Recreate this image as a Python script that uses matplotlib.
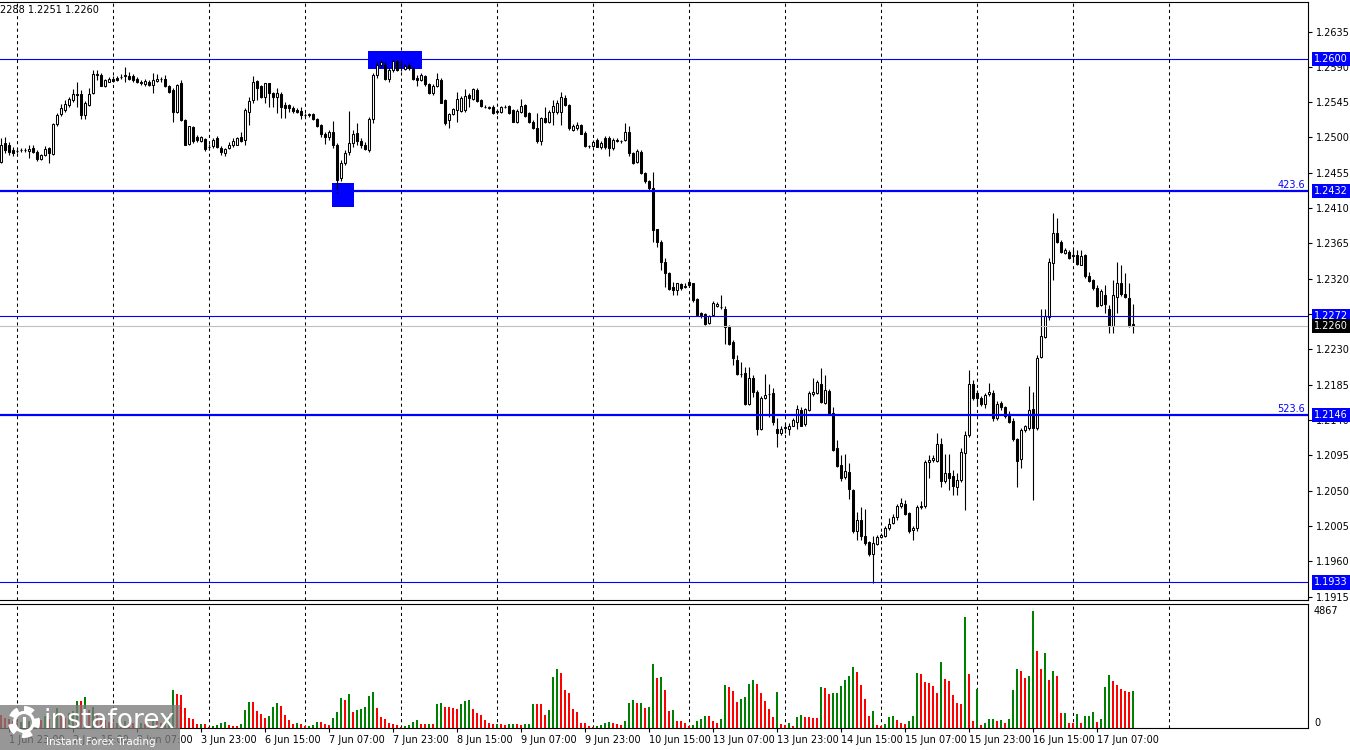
import matplotlib
matplotlib.use('Agg')
import matplotlib.pyplot as plt
import matplotlib.transforms as mtransforms
from matplotlib.patches import Rectangle, Circle
import numpy as np

# H1 bars (bar 0 = leftmost)
opens = [
    1.2469, 1.2493, 1.2491, 1.2484, 1.2483, 1.2484, 1.2484, 1.2483, 1.2487, 1.2482,
    1.2472, 1.2478, 1.2486, 1.2479, 1.2517, 1.2530, 1.2535, 1.2541, 1.2548, 1.2555,
    1.2555, 1.2529, 1.2541, 1.2557, 1.2580, 1.2580, 1.2565, 1.2571, 1.2575, 1.2576,
    1.2577, 1.2578, 1.2578, 1.2578, 1.2575, 1.2571, 1.2568, 1.2571, 1.2567, 1.2572,
    1.2575, 1.2575, 1.2566, 1.2561, 1.2533, 1.2569, 1.2522, 1.2492, 1.2513, 1.2500,
    1.2496, 1.2498, 1.2488, 1.2489, 1.2499, 1.2487, 1.2480, 1.2486, 1.2490, 1.2491,
    1.2501, 1.2497, 1.2533, 1.2548, 1.2572, 1.2565, 1.2552, 1.2569, 1.2557, 1.2551,
    1.2555, 1.2542, 1.2541, 1.2538, 1.2535, 1.2534, 1.2529, 1.2529, 1.2530, 1.2524,
    1.2516, 1.2505, 1.2500, 1.2507, 1.2491, 1.2448, 1.2467, 1.2481, 1.2493, 1.2506,
    1.2496, 1.2491, 1.2484, 1.2524, 1.2579, 1.2592, 1.2592, 1.2575, 1.2586, 1.2597,
    1.2593, 1.2587, 1.2592, 1.2587, 1.2576, 1.2573, 1.2578, 1.2568, 1.2557, 1.2566,
    1.2573, 1.2548, 1.2522, 1.2530, 1.2535, 1.2534, 1.2535, 1.2554, 1.2549, 1.2561,
    1.2548, 1.2539, 1.2538, 1.2539, 1.2533, 1.2533, 1.2539, 1.2540, 1.2535, 1.2520,
    1.2533, 1.2541, 1.2531, 1.2520, 1.2512, 1.2495, 1.2525, 1.2520, 1.2532, 1.2532,
    1.2532, 1.2550, 1.2541, 1.2510, 1.2512, 1.2516, 1.2506, 1.2489, 1.2489, 1.2497,
    1.2488, 1.2499, 1.2499, 1.2486, 1.2496, 1.2495, 1.2497, 1.2507, 1.2480, 1.2469,
    1.2482, 1.2455, 1.2444, 1.2435, 1.2383, 1.2367, 1.2341, 1.2327, 1.2310, 1.2306,
    1.2313, 1.2310, 1.2316, 1.2314, 1.2294, 1.2276, 1.2275, 1.2264, 1.2274, 1.2285,
    1.2284, 1.2282, 1.2259, 1.2240, 1.2217, 1.2199, 1.2200, 1.2161, 1.2194, 1.2176,
    1.2129, 1.2168, 1.2173, 1.2174, 1.2128, 1.2124, 1.2130, 1.2129, 1.2133, 1.2138,
    1.2153, 1.2135, 1.2153, 1.2173, 1.2175, 1.2186, 1.2162, 1.2177, 1.2149, 1.2104,
    1.2083, 1.2067, 1.2074, 1.2051, 1.1999, 1.2013, 1.1992, 1.1984, 1.1969, 1.1982,
    1.1991, 1.1992, 1.2002, 1.2009, 1.2016, 1.2031, 1.2033, 1.2022, 1.2000, 1.2002,
    1.2029, 1.2030, 1.2086, 1.2089, 1.2088, 1.2110, 1.2062, 1.2073, 1.2069, 1.2055,
    1.2063, 1.2098, 1.2121, 1.2186, 1.2175, 1.2168, 1.2160, 1.2173, 1.2175, 1.2142,
    1.2162, 1.2156, 1.2148, 1.2139, 1.2116, 1.2090, 1.2127, 1.2130, 1.2154, 1.2130,
    1.2220, 1.2246, 1.2271, 1.2340, 1.2378, 1.2367, 1.2353, 1.2354, 1.2349, 1.2350,
    1.2338, 1.2350, 1.2323, 1.2318, 1.2308, 1.2286, 1.2299, 1.2281, 1.2260, 1.2297,
    1.2314, 1.2300, 1.2296, 1.2262,
]
highs = [
    1.2499, 1.2500, 1.2494, 1.2488, 1.2485, 1.2487, 1.2486, 1.2490, 1.2490, 1.2484,
    1.2479, 1.2489, 1.2488, 1.2518, 1.2531, 1.2543, 1.2548, 1.2552, 1.2562, 1.2571,
    1.2561, 1.2547, 1.2563, 1.2586, 1.2586, 1.2582, 1.2575, 1.2577, 1.2578, 1.2578,
    1.2581, 1.2590, 1.2583, 1.2581, 1.2577, 1.2573, 1.2575, 1.2573, 1.2582, 1.2581,
    1.2577, 1.2580, 1.2567, 1.2563, 1.2568, 1.2573, 1.2524, 1.2515, 1.2515, 1.2503,
    1.2502, 1.2499, 1.2492, 1.2499, 1.2502, 1.2489, 1.2487, 1.2494, 1.2499, 1.2501,
    1.2507, 1.2538, 1.2552, 1.2578, 1.2573, 1.2567, 1.2570, 1.2570, 1.2558, 1.2563,
    1.2558, 1.2545, 1.2543, 1.2540, 1.2538, 1.2539, 1.2531, 1.2531, 1.2531, 1.2525,
    1.2517, 1.2507, 1.2510, 1.2521, 1.2493, 1.2471, 1.2484, 1.2534, 1.2510, 1.2518,
    1.2499, 1.2494, 1.2526, 1.2582, 1.2596, 1.2599, 1.2596, 1.2588, 1.2599, 1.2599,
    1.2599, 1.2594, 1.2595, 1.2590, 1.2580, 1.2582, 1.2580, 1.2569, 1.2568, 1.2582,
    1.2576, 1.2549, 1.2531, 1.2538, 1.2558, 1.2553, 1.2562, 1.2557, 1.2563, 1.2563,
    1.2549, 1.2541, 1.2540, 1.2541, 1.2536, 1.2540, 1.2541, 1.2541, 1.2536, 1.2536,
    1.2549, 1.2543, 1.2532, 1.2522, 1.2531, 1.2526, 1.2539, 1.2535, 1.2548, 1.2548,
    1.2558, 1.2554, 1.2543, 1.2517, 1.2520, 1.2517, 1.2508, 1.2491, 1.2497, 1.2499,
    1.2496, 1.2502, 1.2502, 1.2499, 1.2499, 1.2497, 1.2518, 1.2514, 1.2482, 1.2485,
    1.2484, 1.2456, 1.2446, 1.2456, 1.2384, 1.2369, 1.2346, 1.2328, 1.2316, 1.2315,
    1.2314, 1.2314, 1.2318, 1.2315, 1.2295, 1.2278, 1.2276, 1.2274, 1.2292, 1.2290,
    1.2299, 1.2285, 1.2261, 1.2242, 1.2223, 1.2214, 1.2208, 1.2208, 1.2197, 1.2178,
    1.2171, 1.2199, 1.2186, 1.2181, 1.2142, 1.2132, 1.2136, 1.2136, 1.2142, 1.2159,
    1.2157, 1.2155, 1.2177, 1.2193, 1.2191, 1.2206, 1.2197, 1.2180, 1.2157, 1.2115,
    1.2096, 1.2097, 1.2085, 1.2052, 1.2023, 1.2029, 1.2027, 1.1986, 1.1992, 1.1993,
    1.1996, 1.2005, 1.2015, 1.2020, 1.2033, 1.2041, 1.2038, 1.2023, 1.2005, 1.2032,
    1.2037, 1.2089, 1.2096, 1.2096, 1.2123, 1.2117, 1.2097, 1.2097, 1.2076, 1.2072,
    1.2104, 1.2126, 1.2204, 1.2191, 1.2178, 1.2171, 1.2174, 1.2187, 1.2178, 1.2164,
    1.2164, 1.2158, 1.2152, 1.2142, 1.2117, 1.2130, 1.2134, 1.2183, 1.2176, 1.2223,
    1.2282, 1.2282, 1.2346, 1.2404, 1.2397, 1.2370, 1.2359, 1.2357, 1.2358, 1.2357,
    1.2357, 1.2351, 1.2329, 1.2320, 1.2312, 1.2307, 1.2312, 1.2286, 1.2318, 1.2341,
    1.2337, 1.2327, 1.2315, 1.2288,
]
lows = [
    1.2467, 1.2480, 1.2478, 1.2476, 1.2480, 1.2481, 1.2481, 1.2474, 1.2480, 1.2470,
    1.2471, 1.2476, 1.2468, 1.2478, 1.2515, 1.2527, 1.2532, 1.2539, 1.2545, 1.2539,
    1.2524, 1.2524, 1.2540, 1.2555, 1.2573, 1.2566, 1.2564, 1.2571, 1.2571, 1.2572,
    1.2575, 1.2571, 1.2573, 1.2571, 1.2569, 1.2567, 1.2566, 1.2566, 1.2557, 1.2571,
    1.2571, 1.2564, 1.2557, 1.2520, 1.2531, 1.2521, 1.2490, 1.2490, 1.2493, 1.2494,
    1.2494, 1.2483, 1.2484, 1.2487, 1.2487, 1.2478, 1.2476, 1.2485, 1.2488, 1.2490,
    1.2494, 1.2490, 1.2516, 1.2544, 1.2548, 1.2550, 1.2544, 1.2539, 1.2539, 1.2531,
    1.2525, 1.2525, 1.2532, 1.2531, 1.2531, 1.2524, 1.2526, 1.2526, 1.2522, 1.2513,
    1.2501, 1.2492, 1.2497, 1.2486, 1.2429, 1.2444, 1.2465, 1.2478, 1.2488, 1.2490,
    1.2486, 1.2484, 1.2481, 1.2518, 1.2576, 1.2590, 1.2573, 1.2571, 1.2583, 1.2585,
    1.2585, 1.2586, 1.2586, 1.2573, 1.2565, 1.2572, 1.2566, 1.2555, 1.2554, 1.2564,
    1.2544, 1.2516, 1.2512, 1.2529, 1.2520, 1.2532, 1.2532, 1.2539, 1.2548, 1.2545,
    1.2539, 1.2537, 1.2536, 1.2530, 1.2530, 1.2531, 1.2537, 1.2530, 1.2520, 1.2518,
    1.2531, 1.2526, 1.2518, 1.2511, 1.2493, 1.2490, 1.2518, 1.2518, 1.2516, 1.2530,
    1.2516, 1.2540, 1.2510, 1.2508, 1.2510, 1.2504, 1.2488, 1.2487, 1.2488, 1.2488,
    1.2485, 1.2485, 1.2476, 1.2484, 1.2494, 1.2493, 1.2496, 1.2476, 1.2466, 1.2468,
    1.2454, 1.2442, 1.2432, 1.2367, 1.2361, 1.2331, 1.2310, 1.2306, 1.2299, 1.2299,
    1.2306, 1.2308, 1.2309, 1.2291, 1.2273, 1.2270, 1.2261, 1.2262, 1.2273, 1.2284,
    1.2282, 1.2237, 1.2236, 1.2210, 1.2197, 1.2195, 1.2159, 1.2159, 1.2169, 1.2121,
    1.2127, 1.2167, 1.2144, 1.2134, 1.2105, 1.2121, 1.2124, 1.2121, 1.2132, 1.2129,
    1.2132, 1.2133, 1.2151, 1.2170, 1.2173, 1.2162, 1.2160, 1.2148, 1.2101, 1.2080,
    1.2062, 1.2065, 1.2040, 1.1996, 1.1987, 1.1987, 1.1981, 1.1967, 1.1932, 1.1981,
    1.1990, 1.1991, 1.2000, 1.2008, 1.2013, 1.2028, 1.2019, 1.1996, 1.1987, 1.1999,
    1.2027, 1.2028, 1.2066, 1.2087, 1.2087, 1.2055, 1.2060, 1.2051, 1.2044, 1.2044,
    1.2061, 1.2025, 1.2118, 1.2166, 1.2158, 1.2158, 1.2155, 1.2171, 1.2139, 1.2140,
    1.2153, 1.2142, 1.2136, 1.2113, 1.2055, 1.2079, 1.2125, 1.2127, 1.2038, 1.2127,
    1.2219, 1.2245, 1.2267, 1.2318, 1.2365, 1.2353, 1.2351, 1.2345, 1.2341, 1.2337,
    1.2337, 1.2321, 1.2316, 1.2306, 1.2284, 1.2285, 1.2276, 1.2251, 1.2251, 1.2276,
    1.2298, 1.2296, 1.2258, 1.2251,
]
closes = [
    1.2490, 1.2484, 1.2482, 1.2480, 1.2483, 1.2484, 1.2484, 1.2485, 1.2482, 1.2472,
    1.2478, 1.2485, 1.2480, 1.2517, 1.2528, 1.2537, 1.2543, 1.2549, 1.2556, 1.2554,
    1.2529, 1.2544, 1.2556, 1.2581, 1.2581, 1.2566, 1.2573, 1.2575, 1.2572, 1.2573,
    1.2577, 1.2579, 1.2575, 1.2573, 1.2571, 1.2569, 1.2572, 1.2567, 1.2573, 1.2575,
    1.2574, 1.2566, 1.2558, 1.2533, 1.2567, 1.2522, 1.2491, 1.2514, 1.2495, 1.2497,
    1.2500, 1.2485, 1.2488, 1.2497, 1.2488, 1.2482, 1.2485, 1.2490, 1.2496, 1.2499,
    1.2496, 1.2535, 1.2546, 1.2571, 1.2563, 1.2552, 1.2569, 1.2557, 1.2552, 1.2557,
    1.2539, 1.2538, 1.2537, 1.2534, 1.2533, 1.2528, 1.2529, 1.2530, 1.2524, 1.2515,
    1.2505, 1.2501, 1.2507, 1.2491, 1.2446, 1.2467, 1.2480, 1.2493, 1.2504, 1.2496,
    1.2490, 1.2485, 1.2524, 1.2580, 1.2592, 1.2596, 1.2575, 1.2586, 1.2597, 1.2586,
    1.2593, 1.2591, 1.2588, 1.2575, 1.2573, 1.2579, 1.2568, 1.2557, 1.2566, 1.2574,
    1.2544, 1.2519, 1.2530, 1.2536, 1.2549, 1.2550, 1.2553, 1.2550, 1.2562, 1.2546,
    1.2540, 1.2539, 1.2538, 1.2531, 1.2533, 1.2539, 1.2539, 1.2531, 1.2520, 1.2534,
    1.2540, 1.2527, 1.2520, 1.2512, 1.2495, 1.2525, 1.2520, 1.2533, 1.2540, 1.2544,
    1.2552, 1.2541, 1.2512, 1.2515, 1.2516, 1.2505, 1.2489, 1.2489, 1.2494, 1.2488,
    1.2493, 1.2488, 1.2486, 1.2497, 1.2496, 1.2495, 1.2507, 1.2480, 1.2468, 1.2483,
    1.2455, 1.2444, 1.2435, 1.2382, 1.2367, 1.2341, 1.2327, 1.2307, 1.2306, 1.2314,
    1.2308, 1.2311, 1.2312, 1.2293, 1.2274, 1.2274, 1.2262, 1.2273, 1.2289, 1.2288,
    1.2284, 1.2258, 1.2237, 1.2219, 1.2199, 1.2199, 1.2160, 1.2194, 1.2176, 1.2128,
    1.2168, 1.2172, 1.2173, 1.2138, 1.2124, 1.2129, 1.2131, 1.2133, 1.2140, 1.2154,
    1.2133, 1.2154, 1.2175, 1.2176, 1.2188, 1.2163, 1.2178, 1.2149, 1.2102, 1.2082,
    1.2066, 1.2075, 1.2052, 1.1998, 1.2013, 1.1992, 1.1983, 1.1969, 1.1983, 1.1991,
    1.1993, 1.2002, 1.2008, 1.2016, 1.2030, 1.2034, 1.2020, 1.1999, 1.2003, 1.2029,
    1.2030, 1.2087, 1.2089, 1.2091, 1.2110, 1.2062, 1.2073, 1.2066, 1.2056, 1.2064,
    1.2099, 1.2121, 1.2186, 1.2168, 1.2168, 1.2161, 1.2172, 1.2176, 1.2142, 1.2160,
    1.2156, 1.2145, 1.2138, 1.2116, 1.2088, 1.2127, 1.2132, 1.2153, 1.2130, 1.2219,
    1.2247, 1.2272, 1.2341, 1.2378, 1.2367, 1.2354, 1.2356, 1.2347, 1.2350, 1.2339,
    1.2349, 1.2323, 1.2317, 1.2308, 1.2285, 1.2305, 1.2288, 1.2260, 1.2299, 1.2314,
    1.2300, 1.2297, 1.2260, 1.2260,
]
volumes = [
    553, 415, 360, 277, 194, 249, 166, 304, 249, 415,
    332, 484, 387, 622, 830, 553, 415, 609, 692, 1134,
    1106, 1286, 761, 857, 553, 387, 332, 249, 194, 221,
    166, 304, 249, 194, 166, 207, 180, 152, 332, 277,
    194, 304, 553, 1590, 1411, 1383, 830, 429, 387, 166,
    180, 152, 41, 97, 138, 207, 263, 124, 97, 83,
    180, 761, 1093, 1065, 692, 595, 429, 512, 871, 1051,
    899, 553, 346, 180, 194, 180, 69, 83, 138, 263,
    249, 166, 138, 429, 678, 1259, 1148, 1424, 650, 733,
    788, 885, 1342, 1507, 816, 470, 373, 221, 180, 111,
    41, 69, 138, 235, 318, 180, 166, 180, 166, 1010,
    1037, 871, 857, 844, 802, 1010, 1120, 1176, 802, 636,
    553, 332, 207, 166, 180, 152, 138, 166, 180, 166,
    138, 152, 180, 1010, 996, 982, 553, 761, 2116, 2462,
    2296, 1590, 1452, 788, 678, 207, 194, 69, 55, 69,
    124, 207, 249, 207, 166, 124, 277, 1037, 1176, 1037,
    1051, 830, 857, 2669, 2088, 2130, 1563, 719, 733, 304,
    290, 207, 69, 138, 304, 387, 512, 498, 304, 221,
    387, 1784, 1701, 1535, 1093, 1217, 1286, 1839, 2005, 1839,
    1452, 1134, 802, 456, 1507, 180, 124, 221, 97, 470,
    539, 470, 456, 429, 415, 1715, 1660, 1424, 1452, 1466,
    1756, 2005, 2171, 2545, 2337, 1784, 1217, 484, 719, 124,
    83, 180, 470, 484, 346, 207, 180, 277, 512, 2296,
    2254, 1922, 1881, 1729, 1466, 2752, 2047, 1964, 1383, 1037,
    996, 4605, 2254, 304, 1618, 124, 221, 373, 387, 304,
    318, 221, 387, 1563, 2462, 2379, 2088, 2171, 4867, 3209,
    2462, 3112, 2005, 2379, 2171, 622, 636, 207, 194, 581,
    207, 498, 512, 664, 263, 387, 1687, 2199, 1936, 1784,
    1632, 1549, 1494, 1521,
]

# bottom time scale: a label every 16 bars starting at bar 2
time_labels = ['1 Jun 23:00', '2 Jun 15:00', '3 Jun 07:00', '3 Jun 23:00', '6 Jun 15:00',
               '7 Jun 07:00', '7 Jun 23:00', '8 Jun 15:00', '9 Jun 07:00', '9 Jun 23:00',
               '10 Jun 15:00', '13 Jun 07:00', '13 Jun 23:00', '14 Jun 15:00', '15 Jun 07:00',
               '15 Jun 23:00', '16 Jun 15:00', '17 Jun 07:00']
label_bars = [2 + 16 * k for k in range(len(time_labels))]
grid_bars = [4 + 24 * k for k in range(13)]

price_ticks = [1.2635, 1.2590, 1.2545, 1.2500, 1.2455, 1.2410, 1.2365, 1.2320, 1.2275,
               1.2230, 1.2185, 1.2140, 1.2095, 1.2050, 1.2005, 1.1960, 1.1915]

thin_levels = [1.2600, 1.2272, 1.1933]
thick_levels = [1.2432, 1.2146]
fib_names = {1.2432: '423.6', 1.2146: '523.6'}
bid = 1.2260
vol_max = 4867

# blue boxes: (first bar, last bar, upper price, lower price)
zones = [(92, 105, 1.2610, 1.2587), (83, 88, 1.2442, 1.2411)]

o = np.array(opens)
h = np.array(highs)
l = np.array(lows)
c = np.array(closes)
v = np.array(volumes)
n = len(c)
idx = np.arange(n)

W, H = 1350, 750
fig = plt.figure(figsize=(13.5, 7.5), dpi=100)
fig.patch.set_facecolor('white')


def px_rect(x0, y0, x1, y1):
    return [x0 / W, 1 - y1 / H, (x1 - x0) / W, (y1 - y0) / H]


ax = fig.add_axes(px_rect(0, 2, 1308, 600))
axv = fig.add_axes(px_rect(0, 604, 1308, 728))

xmin, xmax = -0.25, 326.75
ax.set_xlim(xmin, xmax)
ax.set_ylim(1.19107, 1.26726)
axv.set_xlim(xmin, xmax)
axv.set_ylim(0, vol_max * 124 / 117)

for a in (ax, axv):
    a.spines['left'].set_visible(False)
    for s in ('top', 'right', 'bottom'):
        a.spines[s].set_linewidth(0.8)
        a.spines[s].set_color('black')
    for gb in grid_bars:
        a.axvline(gb, color='black', lw=0.75, ls=(0, (3, 3)), zorder=0.5)

# zones behind the candles
for b0, b1, top, bot in zones:
    ax.add_patch(Rectangle((b0 - 0.25, bot), b1 - b0 + 0.5, top - bot,
                           facecolor='#0000FF', edgecolor='none', zorder=1))

# candles
up = c >= o
body_lo = np.minimum(o, c)
body_h = np.maximum(np.abs(c - o), 0.00002)
ax.vlines(idx, l, h, color='black', lw=0.8, zorder=2)
ax.bar(idx[up], body_h[up], bottom=body_lo[up], width=0.55,
       facecolor='white', edgecolor='black', lw=0.75, zorder=3)
ax.bar(idx[~up], body_h[~up], bottom=body_lo[~up], width=0.55,
       facecolor='black', edgecolor='black', lw=0.75, zorder=3)

# levels
for p in thin_levels:
    ax.axhline(p, color='#0000FF', lw=0.8, zorder=4)
for p in thick_levels:
    ax.axhline(p, color='#0000FF', lw=1.6, zorder=4)
ax.axhline(bid, color='#C0C0C0', lw=0.8, zorder=3.5)

trans = mtransforms.blended_transform_factory(ax.transAxes, ax.transData)
for p, name in fib_names.items():
    ax.annotate(name, xy=(1.0, p), xycoords=trans, xytext=(-3, 1),
                textcoords='offset pixels', ha='right', va='bottom',
                color='#0000FF', fontsize=7, zorder=6)

# right price scale
ax.yaxis.tick_right()
ax.set_yticks(price_ticks)
ax.set_yticklabels(['%.4f' % t for t in price_ticks])
ax.tick_params(axis='y', length=3, width=0.8, pad=3, labelsize=7, direction='out')
ax.set_xticks([])

for p in thin_levels + thick_levels + [bid]:
    fc = 'black' if p == bid else '#0000FF'
    ax.text(1.0 + 6 / 1308, p, '%.4f' % p, transform=trans, ha='left', va='center',
            fontsize=7, color='white', clip_on=False, zorder=10,
            bbox=dict(boxstyle='square,pad=0.22', fc=fc, ec='none'))

# volumes, green when tick volume rises vs previous bar
vcol = ['#008000' if i > 0 and v[i] > v[i - 1] else '#FF0000' for i in range(n)]
axv.bar(idx, v, width=0.7, color=vcol, zorder=2)
axv.set_yticks([])
axv.set_xticks(label_bars)
axv.set_xticklabels(time_labels, ha='left')
axv.tick_params(axis='x', length=3, width=0.8, pad=2, labelsize=7, direction='out')
vtrans = mtransforms.blended_transform_factory(axv.transAxes, axv.transData)
axv.text(1.0 + 6 / 1308, vol_max, str(vol_max), transform=vtrans, ha='left',
         va='center', fontsize=7, clip_on=False)
axv.text(1.0 + 6 / 1308, 200, '0', transform=vtrans, ha='left', va='center',
         fontsize=7, clip_on=False)

# header text
fig.text(0.0, 1 - 10 / H, '2288 1.2251 1.2260', fontsize=7, ha='left', va='center')

# watermark logo
lg = fig.add_axes(px_rect(0, 705, 180, 750))
lg.set_xlim(0, 180)
lg.set_ylim(45, 0)
lg.axis('off')
lg.add_patch(Rectangle((0, 0), 180, 45, facecolor='#7a7a7a', alpha=0.78, edgecolor='none'))
lg.add_patch(Circle((24, 17), 12.5, fill=False, ec='white', lw=5, ls=(0, (1.3, 1.0))))
lg.add_patch(Circle((24, 17), 9.5, fill=False, ec='white', lw=2.2))
lg.add_patch(Rectangle((22.5, 12), 3, 11, facecolor='white', edgecolor='none'))
lg.text(44, 16, 'instaforex', color='white', fontsize=19, ha='left', va='center')
lg.text(46, 37, 'Instant Forex Trading', color='white', fontsize=7.5, ha='left', va='center')

fig.savefig('out.png', dpi=100)
